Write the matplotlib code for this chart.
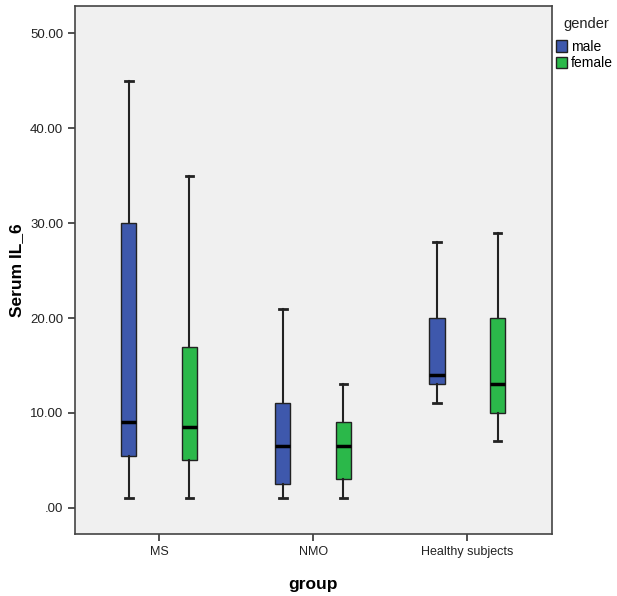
import matplotlib
matplotlib.use("Agg")
import matplotlib.pyplot as plt
from matplotlib.patches import Patch

plt.rcParams['font.family'] = ['Liberation Sans', 'DejaVu Sans']

grupos = ['MS', 'NMO', 'Healthy subjects']
generos = ['male', 'female']
cores = ['#3e58ac', '#2bb84a']

# valores (min, Q1, mediana, Q3, max)
male_min = [1, 1, 11]
male_q1 = [5.5, 2.5, 13]
male_med = [9, 6.5, 14]
male_q3 = [30, 11, 20]
male_max = [45, 21, 28]

female_min = [1, 1, 7]
female_q1 = [5, 3, 10]
female_med = [8.5, 6.5, 13]
female_q3 = [17, 9, 20]
female_max = [35, 13, 29]

fig = plt.figure(figsize=(6.17, 5.96), dpi=100)
ax = fig.add_axes([0.1216, 0.104, 0.773, 0.886])
ax.set_facecolor('#f0f0f0')

series = [
    (male_min, male_q1, male_med, male_q3, male_max),
    (female_min, female_q1, female_med, female_q3, female_max),
]
offsets = [-0.197, 0.197]

for s, (mn, q1, med, q3, mx) in enumerate(series):
    stats = []
    for i in range(len(grupos)):
        stats.append({'whislo': mn[i], 'q1': q1[i], 'med': med[i],
                      'q3': q3[i], 'whishi': mx[i], 'fliers': []})
    pos = [i + offsets[s] for i in range(len(grupos))]
    ax.bxp(stats, positions=pos, widths=0.1, capwidths=0.05,
           patch_artist=True, showfliers=False, manage_ticks=False,
           boxprops=dict(facecolor=cores[s], edgecolor='#222222', linewidth=1.0),
           medianprops=dict(color='black', linewidth=2.5),
           whiskerprops=dict(color='#222222', linewidth=1.5),
           capprops=dict(color='#222222', linewidth=2.0))

ax.set_xlim(-0.545, 2.55)
ax.set_ylim(-2.74, 52.85)
ax.set_xticks(range(len(grupos)))
ax.set_xticklabels(grupos, fontsize=9, color='#222222')
ax.set_yticks([0, 10, 20, 30, 40, 50])
ax.set_yticklabels(['.00', '10.00', '20.00', '30.00', '40.00', '50.00'],
                   fontsize=9.5, color='#222222')
ax.tick_params(length=5, width=1.2, color='#333333')
for sp in ax.spines.values():
    sp.set_color('#444444')
    sp.set_linewidth(1.2)

ax.set_xlabel('group', fontsize=12.5, fontweight='bold', labelpad=14)
ax.set_ylabel('Serum IL_6', fontsize=12.5, fontweight='bold', labelpad=4)

# legenda
fig.text(563 / 617, 1 - 24 / 596, 'gender', fontsize=10.5, color='#222222',
         ha='left', va='center')
handles = [Patch(facecolor=cores[i], edgecolor='#222222', label=generos[i]) for i in range(2)]
fig.legend(handles=handles, loc='upper left',
           bbox_to_anchor=(556 / 617, 1 - 40 / 596), frameon=False, fontsize=10,
           handlelength=0.8, handleheight=0.9,
           handletextpad=0.3, labelspacing=0.15, borderaxespad=0, borderpad=0)

fig.savefig('out.png', dpi=100)
